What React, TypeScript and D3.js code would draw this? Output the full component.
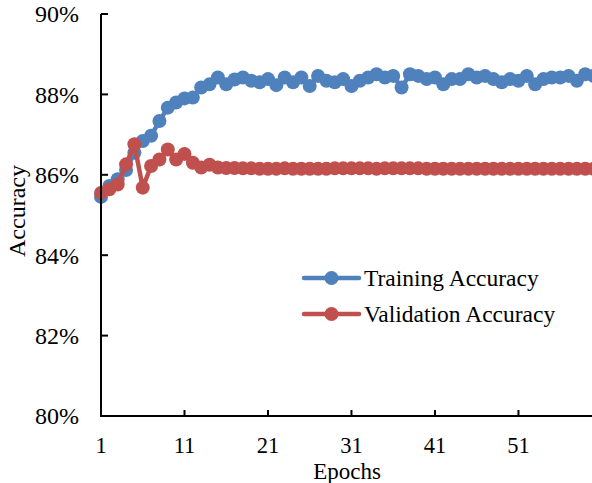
import React from "react";
import * as d3 from "d3";

const epochs: number[] = d3.range(1, 61);
const training: number[] = [
  85.45, 85.72, 85.89, 86.12, 86.55, 86.84, 86.97, 87.34, 87.67, 87.8,
  87.9, 87.92, 88.17, 88.25, 88.42, 88.25, 88.37, 88.42, 88.34, 88.3,
  88.38, 88.23, 88.42, 88.3, 88.42, 88.21, 88.46, 88.34, 88.3, 88.38,
  88.21, 88.34, 88.42, 88.5, 88.42, 88.46, 88.17, 88.5, 88.46, 88.38,
  88.42, 88.25, 88.38, 88.38, 88.5, 88.42, 88.46, 88.38, 88.3, 88.38,
  88.34, 88.46, 88.25, 88.38, 88.42, 88.42, 88.46, 88.34, 88.5, 88.46,
];
const validation: number[] = [
  85.55, 85.64, 85.76, 86.26, 86.76, 85.68, 86.22, 86.38, 86.63, 86.38,
  86.52, 86.3, 86.18, 86.25, 86.18, 86.17, 86.17, 86.16, 86.16, 86.15,
  86.15, 86.15, 86.16, 86.15, 86.15, 86.15, 86.15, 86.15, 86.16, 86.16,
  86.16, 86.16, 86.16, 86.15, 86.16, 86.16, 86.16, 86.16, 86.16, 86.15,
  86.15, 86.15, 86.15, 86.15, 86.15, 86.15, 86.15, 86.15, 86.15, 86.15,
  86.15, 86.15, 86.15, 86.15, 86.15, 86.15, 86.15, 86.15, 86.15, 86.15,
];
const yTicks: number[] = [80, 82, 84, 86, 88, 90];
const xTicks: number[] = [1, 11, 21, 31, 41, 51];
const seriesNames: string[] = ["Training Accuracy", "Validation Accuracy"];
const seriesColors: string[] = ["#4F81BD", "#C0504D"];

const W = 592;
const H = 483;
const FONT = "'Liberation Serif', 'Times New Roman', serif";

export default function App() {
  const x = d3.scaleLinear().domain([1, 60]).range([101, 593.6]);
  const y = d3.scaleLinear().domain([80, 90]).range([416, 14]);
  const line = d3
    .line<number>()
    .x((_, i) => x(epochs[i]))
    .y((d) => y(d));
  const series = [training, validation];

  return (
    <svg
      width={W}
      height={H}
      style={{ position: "absolute", left: 0, top: 0, background: "#fff" }}
      fontFamily={FONT}
    >
      <rect x={0} y={0} width={W} height={H} fill="#fff" />
      {series.map((s, si) => (
        <g key={si}>
          <path d={line(s) || ""} fill="none" stroke={seriesColors[si]} strokeWidth={4.5} strokeLinejoin="round" />
          {s.map((v, i) => (
            <circle key={i} cx={x(epochs[i])} cy={y(v)} r={7} fill={seriesColors[si]} />
          ))}
        </g>
      ))}
      {/* axes */}
      <line x1={101} x2={W} y1={y(80)} y2={y(80)} stroke="#000" strokeWidth={2} />
      <line x1={101} x2={101} y1={y(90)} y2={y(80) + 1} stroke="#000" strokeWidth={2} />
      {yTicks.map((t) => (
        <g key={t}>
          <line x1={101} x2={108} y1={y(t)} y2={y(t)} stroke="#000" strokeWidth={2} />
          <text x={79} y={y(t)} dy="0.35em" textAnchor="end" fontSize={24} fill="#000">
            {t}%
          </text>
        </g>
      ))}
      {xTicks.map((t) => (
        <g key={t}>
          {t > 1 && <line x1={x(t)} x2={x(t)} y1={y(80)} y2={y(80) - 6} stroke="#000" strokeWidth={2} />}
          <text x={x(t)} y={453} textAnchor="middle" fontSize={22.5} fill="#000">
            {t}
          </text>
        </g>
      ))}
      <text x={347} y={478.5} textAnchor="middle" fontSize={23} fill="#000">
        Epochs
      </text>
      <text
        transform={`translate(25,211) rotate(-90)`}
        textAnchor="middle"
        fontSize={24}
        fill="#000"
      >
        Accuracy
      </text>
      {/* legend */}
      {seriesNames.map((name, i) => (
        <g key={name} transform={`translate(0,${278 + i * 36})`}>
          <line x1={304} x2={359} y1={0} y2={0} stroke={seriesColors[i]} strokeWidth={4.5} strokeLinecap="round" />
          <circle cx={331.5} cy={0} r={7} fill={seriesColors[i]} />
          <text x={364} y={0} dy="0.33em" fontSize={23.5} fill="#000">
            {name}
          </text>
        </g>
      ))}
    </svg>
  );
}
